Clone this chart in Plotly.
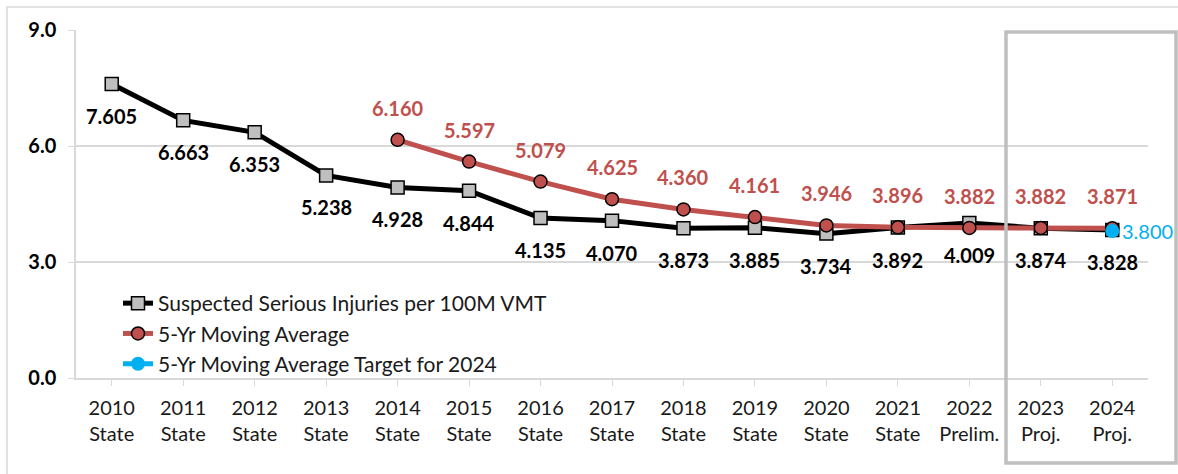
import plotly.graph_objects as go

years = ["2010", "2011", "2012", "2013", "2014", "2015", "2016", "2017",
         "2018", "2019", "2020", "2021", "2022", "2023", "2024"]
kinds = ["State"] * 12 + ["Prelim.", "Proj.", "Proj."]
categories = [f"{y}<br>{k}" for y, k in zip(years, kinds)]

injuries = [7.605, 6.663, 6.353, 5.238, 4.928, 4.844, 4.135, 4.070,
            3.873, 3.885, 3.734, 3.892, 4.009, 3.874, 3.828]
moving_avg = [None, None, None, None, 6.160, 5.597, 5.079, 4.625,
              4.360, 4.161, 3.946, 3.896, 3.882, 3.882, 3.871]
target_cat = [categories[-1]]
target_val = [3.800]

BLACK = "#000000"
RED = "#c0504d"
BLUE = "#00b0f0"
FONT = "Lato"

fig = go.Figure()
fig.add_trace(go.Scatter(
    x=categories, y=injuries, mode="lines+markers",
    name="Suspected Serious Injuries per 100M VMT",
    line=dict(color=BLACK, width=5),
    marker=dict(symbol="square", size=13, color="#bfbfbf",
                line=dict(color=BLACK, width=1.5)),
))
fig.add_trace(go.Scatter(
    x=categories, y=moving_avg, mode="lines+markers",
    name="5-Yr Moving Average",
    line=dict(color=RED, width=5),
    marker=dict(symbol="circle", size=13, color=RED,
                line=dict(color=BLACK, width=1.5)),
))
fig.add_trace(go.Scatter(
    x=target_cat, y=target_val, mode="lines+markers",
    name="5-Yr Moving Average Target for 2024",
    line=dict(color=BLUE, width=5),
    marker=dict(symbol="circle", size=14, color=BLUE),
))

annotations = []
for c, v in zip(categories, injuries):
    annotations.append(dict(
        x=c, y=v, xref="x", yref="y", text=f"{v:.3f}", showarrow=False,
        yshift=-32, font=dict(family=FONT, size=20, color=BLACK, weight=700)))
for c, v in zip(categories, moving_avg):
    if v is None:
        continue
    annotations.append(dict(
        x=c, y=v, xref="x", yref="y", text=f"{v:.3f}", showarrow=False,
        yshift=32, font=dict(family=FONT, size=20, color=RED, weight=700)))
for c, v in zip(target_cat, target_val):
    annotations.append(dict(
        x=c, y=v, xref="x", yref="y", text=f"{v:.3f}", showarrow=False,
        xanchor="left", xshift=8,
        font=dict(family=FONT, size=20, color=BLUE)))

W, H = 1178, 474
ML, MR, MT, MB = 76, 30, 30, 96
PW, PH = W - ML - MR, H - MT - MB

def px_x(p):
    return (p - ML) / PW

def px_y(p):
    return (H - MB - p) / PH

shapes = [
    # outer chart border
    dict(type="rect", xref="paper", yref="paper",
         x0=px_x(7), x1=px_x(1185), y0=px_y(7), y1=px_y(485),
         line=dict(color="#d9d9d9", width=1.5), layer="below"),
    # projection highlight box
    dict(type="rect", xref="paper", yref="paper",
         x0=px_x(1006), x1=px_x(1176), y0=px_y(32), y1=px_y(463),
         line=dict(color="#bfbfbf", width=3.5), layer="above"),
]

fig.update_layout(
    width=W, height=H,
    margin=dict(l=ML, r=MR, t=MT, b=MB),
    paper_bgcolor="white", plot_bgcolor="white",
    font=dict(family=FONT, color="#1a1a1a"),
    showlegend=True,
    legend=dict(x=px_x(118), y=px_y(283), xanchor="left", yanchor="top",
                bgcolor="rgba(0,0,0,0)", font=dict(family=FONT, size=21, color="#1a1a1a"),
                tracegroupgap=0),
    annotations=annotations,
    shapes=shapes,
)
fig.update_xaxes(
    type="category", range=[-0.5, 14.5],
    showgrid=False, showline=True, linecolor="#d9d9d9", linewidth=1.5,
    ticks="outside", ticklen=6, tickcolor="#d9d9d9",
    ticklabelstandoff=5,
    tickfont=dict(family=FONT, size=20, color="#1a1a1a"),
)
fig.update_yaxes(
    range=[0, 9], dtick=3, tickformat=".1f",
    showgrid=True, gridcolor="#d9d9d9", gridwidth=1.5,
    showline=True, linecolor="#d9d9d9", linewidth=1.5,
    ticks="outside", ticklen=6, tickcolor="#d9d9d9",
    ticklabelstandoff=8,
    zeroline=False,
    tickfont=dict(family=FONT, size=20, color=BLACK, weight=700),
)

fig.write_html("out.html",
               config={"displayModeBar": False},
               post_script="document.body.style.margin='0';document.body.style.overflow='hidden';")
